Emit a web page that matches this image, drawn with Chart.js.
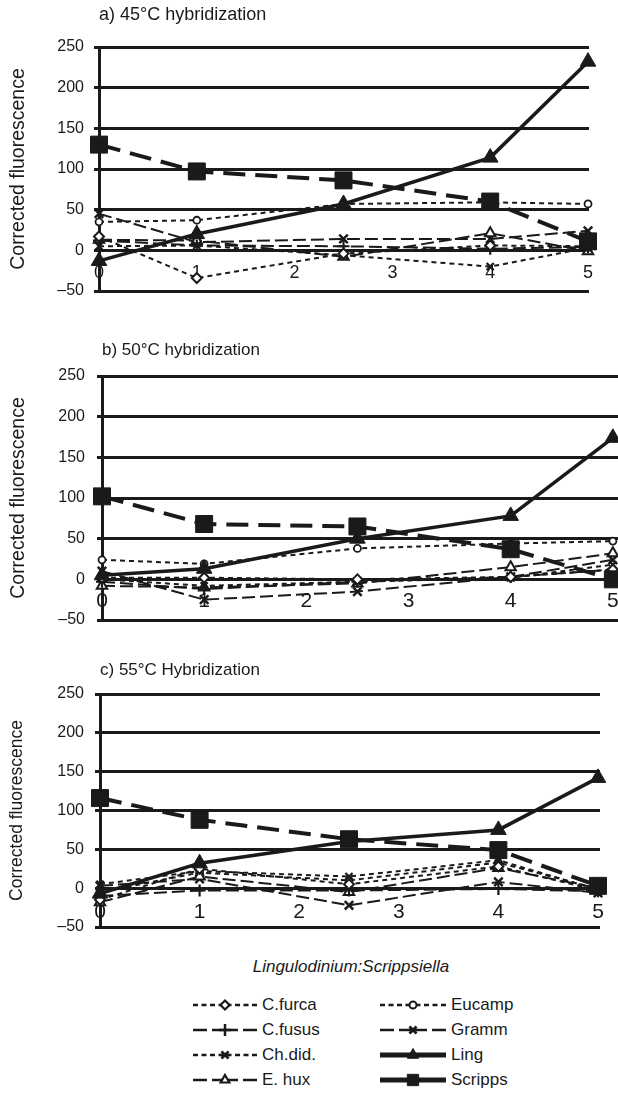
<!DOCTYPE html>
<html><head><meta charset="utf-8">
<script src="https://cdn.jsdelivr.net/npm/chart.js@4.4.1/dist/chart.umd.min.js"></script>
<style>
html,body{margin:0;padding:0;background:#fff;}
body{width:618px;height:1098px;overflow:hidden;position:relative;font-family:'Liberation Sans',Arial,Helvetica,sans-serif;color:#1a1a1a;}
canvas.panel{position:absolute;left:0;display:block;}
#xtitle{position:absolute;left:0;width:702px;top:956px;height:22px;line-height:22px;text-align:center;font-style:italic;font-size:17px;}
.lg{position:absolute;height:20px;}
.lg canvas{position:absolute;top:0;}
.lg span{position:absolute;top:0;line-height:20px;font-size:17px;white-space:nowrap;}
</style></head><body>
<canvas id="pa" class="panel"></canvas>
<canvas id="pb" class="panel"></canvas>
<canvas id="pc" class="panel"></canvas>
<div id="xtitle"></div>
<div id="legend"></div>
<script>
// ---------- data ----------
const xPositions = [0, 1, 2.5, 4, 5];
const xTickValues = [0, 1, 2, 3, 4, 5];
const yTickValues = [-50, 0, 50, 100, 150, 200, 250];
const seriesNames = ['C.furca', 'C.fusus', 'Ch.did.', 'E. hux', 'Eucamp', 'Gramm', 'Ling', 'Scripps'];
const panelTitles = ['a) 45°C hybridization', 'b) 50°C hybridization', 'c) 55°C Hybridization'];
const yAxisTitle = 'Corrected fluorescence';
const xAxisTitle = 'Lingulodinium:Scrippsiella';

// a) 45°C
const cFurcaA  = [17, -34, -4, 6, 5];
const cFususA  = [12, 6, 5, 2, 4];
const chDidA   = [5, 6, -6, -20, 3];
const eHuxA    = [13, 12, -8, 21, -1];
const eucampA  = [35, 37, 57, 59, 57];
const grammA   = [45, 10, 14, 14, 24];
const lingA    = [-13, 20, 57, 114, 232];
const scrippsA = [130, 97, 86, 60, 11];

// b) 50°C
const cFurcaB  = [2, 2, 0, 3, 12];
const cFususB  = [-3, -12, -3, 3, 12];
const chDidB   = [0, -8, -3, 2, 18];
const eHuxB    = [-8, -10, -5, 15, 32];
const eucampB  = [24, 19, 38, 44, 47];
const grammB   = [10, -25, -15, 3, 24];
const lingB    = [5, 13, 50, 78, 174];
const scrippsB = [102, 68, 65, 37, 0];

// c) 55°C
const cFurcaC  = [-15, 25, 5, 28, -3];
const cFususC  = [-10, -3, -3, -1, -4];
const chDidC   = [5, 22, 15, 36, -2];
const eHuxC    = [-18, 15, -5, 26, 0];
const eucampC  = [-5, 20, 10, 33, -1];
const grammC   = [3, 12, -22, 8, -6];
const lingC    = [-7, 32, 60, 75, 142];
const scrippsC = [116, 88, 63, 49, 3];

const panelSeries = [
  [cFurcaA, cFususA, chDidA, eHuxA, eucampA, grammA, lingA, scrippsA],
  [cFurcaB, cFususB, chDidB, eHuxB, eucampB, grammB, lingB, scrippsB],
  [cFurcaC, cFususC, chDidC, eHuxC, eucampC, grammC, lingC, scrippsC]
];

// ---------- styles ----------
const INK = '#1a1a1a';
const seriesStyles = [
  {dash:[5,4],  width:2,   point:'rectRot',  r:5,   fill:'#fff', bw:2,   order:1, lDash:[5,3.5], lWidth:2.5, lR:4.5, lBw:2.2},
  {dash:[13,5], width:2,   point:'cross',    r:6,   fill:INK,   bw:2.2, order:1, lDash:[14,5],  lWidth:2.5, lR:6,   lBw:2.5},
  {dash:[5,4],  width:2,   point:'crossRot', r:5,   fill:INK,   bw:2.2, order:1, lDash:[5,3.5], lWidth:2.5, lR:5,   lBw:2.8},
  {dash:[13,5], width:2,   point:'triangle', r:6,   fill:'#fff', bw:2,   order:1, lDash:[14,5],  lWidth:2.5, lR:5,   lBw:2.2},
  {dash:[5,4],  width:2,   point:'circle',   r:3.5, fill:'#fff', bw:1.8, order:1, lDash:[5,3.5], lWidth:2.5, lR:3.5, lBw:2},
  {dash:[13,5], width:2,   point:'crossRot', r:6,   fill:INK,   bw:2.5, order:1, lDash:[14,5],  lWidth:2.5, lR:5,   lBw:2.8},
  {dash:[],     width:3.5, point:'triangle', r:9,   fill:INK,   bw:1,   order:0, lDash:[],      lWidth:5,   lR:6.5, lBw:1},
  {dash:[22,10],width:4,   point:'rect',     r:12,  fill:INK,   bw:1,   order:0, lDash:[],      lWidth:5,   lR:8,   lBw:1}
];

// ---------- panel geometry ----------
const panelGeom = [
  {id:'pa', top:0,   w:618, h:310, left:99,  right:589, plotTop:47, plotBottom:291, xMax:5.01,
   titleY:15, titleSize:18, yTitleSize:19.5, yTitlePad:7, yTickSize:16, yTickPad:10, xTickSize:18, xTickPad:12},
  {id:'pb', top:330, w:650, h:310, left:102, right:620, plotTop:46, plotBottom:290, xMax:5.07,
   titleY:20.7, titleSize:17, yTitleSize:19.5, yTitlePad:7, yTickSize:16, yTickPad:12, xTickSize:21, xTickPad:9},
  {id:'pc', top:650, w:618, h:300, left:100, right:600, plotTop:44, plotBottom:277, xMax:5.02,
   titleY:20, titleSize:17, yTitleSize:17.5, yTitlePad:7, yTickSize:16, yTickPad:11, xTickSize:21, xTickPad:11}
];

Chart.defaults.font.family = "'Liberation Sans', Arial, Helvetica, sans-serif";
Chart.defaults.color = INK;

function buildPanel(pi) {
  const g = panelGeom[pi];
  const cv = document.getElementById(g.id);
  cv.width = g.w; cv.height = g.h;
  cv.style.top = g.top + 'px';
  cv.style.width = g.w + 'px'; cv.style.height = g.h + 'px';
  const lh = g.titleSize * 1.2;
  const tPadTop = g.titleY - lh / 2;
  const tPadBottom = g.plotTop - tPadTop - lh;
  const datasets = seriesNames.map((name, si) => {
    const st = seriesStyles[si];
    const vals = panelSeries[pi][si];
    return {
      label: name,
      data: xPositions.map((x, i) => ({x: x, y: vals[i]})),
      borderColor: INK,
      borderWidth: st.width,
      borderDash: st.dash,
      pointStyle: st.point,
      pointRadius: st.r,
      pointBackgroundColor: st.fill,
      pointBorderColor: INK,
      pointBorderWidth: st.bw,
      tension: 0,
      fill: false,
      clip: false,
      order: st.order
    };
  });
  const chart = new Chart(cv, {
    type: 'line',
    data: {datasets},
    options: {
      responsive: false,
      animation: false,
      events: [],
      layout: {padding: {left: 0, top: 0, right: g.w - g.right, bottom: g.h - g.plotBottom}},
      plugins: {
        legend: {display: false},
        tooltip: {enabled: false},
        title: {
          display: true, text: panelTitles[pi], align: 'start', fullSize: false,
          color: INK, font: {size: g.titleSize, weight: 'normal'},
          padding: {top: tPadTop, bottom: tPadBottom}
        }
      },
      scales: {
        x: {
          type: 'linear', min: 0, max: g.xMax,
          position: {y: 0},
          afterBuildTicks: s => { s.ticks = xTickValues.map(v => ({value: v})); },
          afterFit: s => { s.height = 0; s.paddingLeft = 0; s.paddingRight = 0; },
          grid: {display: false, drawTicks: false},
          border: {display: false},
          ticks: {color: INK, font: {size: g.xTickSize}, padding: g.xTickPad, maxRotation: 0, autoSkip: false}
        },
        y: {
          type: 'linear', min: yTickValues[0], max: yTickValues[yTickValues.length - 1],
          afterBuildTicks: s => { s.ticks = yTickValues.map(v => ({value: v})); },
          afterFit: s => { s.width = g.left; s.paddingTop = 0; s.paddingBottom = 0; },
          grid: {color: INK, lineWidth: 3, drawTicks: true, tickLength: 5},
          border: {display: true, color: INK, width: 3},
          ticks: {color: INK, font: {size: g.yTickSize}, padding: g.yTickPad,
                  callback: v => (v < 0 ? '\u2013' + Math.abs(v) : String(v))},
          title: {display: true, text: yAxisTitle, color: INK, font: {size: g.yTitleSize},
                  padding: {top: g.yTitlePad, bottom: 0}}
        }
      }
    }
  });
  for (let k = 0; k < 3; k++) {
    const ca = chart.chartArea;
    const dB = ca.bottom - g.plotBottom;
    const dT = ca.top - g.plotTop;
    const dR = ca.right - g.right;
    if (Math.abs(dB) < 0.5 && Math.abs(dT) < 0.5 && Math.abs(dR) < 0.5) break;
    const lp = chart.options.layout.padding;
    chart.options.layout.padding = {left: 0, top: 0, right: lp.right + dR, bottom: lp.bottom + dB};
    const tp = chart.options.plugins.title.padding;
    chart.options.plugins.title.padding = {top: tp.top, bottom: tp.bottom - dT};
    chart.update();
  }
  return chart;
}
panelGeom.forEach((g, i) => buildPanel(i));

document.getElementById('xtitle').textContent = xAxisTitle;

// ---------- legend ----------
const legendCols = [{sample: 193, sw: 64, text: 262}, {sample: 380, sw: 66, text: 451}];
const legendRows = [1005, 1030, 1055, 1080];
const legendOrder = [[0, 4], [1, 5], [2, 6], [3, 7]];
const legendEl = document.getElementById('legend');
legendOrder.forEach((pair, ri) => {
  pair.forEach((si, ci) => {
    const col = legendCols[ci];
    const st = seriesStyles[si];
    const item = document.createElement('div');
    item.className = 'lg';
    item.style.left = '0px';
    item.style.top = (legendRows[ri] - 10) + 'px';
    const c = document.createElement('canvas');
    c.width = col.sw; c.height = 20;
    c.style.left = col.sample + 'px';
    item.appendChild(c);
    const sp = document.createElement('span');
    sp.style.left = col.text + 'px';
    sp.textContent = seriesNames[si];
    item.appendChild(sp);
    legendEl.appendChild(item);
    const ctx = c.getContext('2d');
    const cy = 10;
    ctx.strokeStyle = INK; ctx.lineWidth = st.lWidth;
    ctx.setLineDash(st.lDash);
    ctx.beginPath(); ctx.moveTo(0, cy); ctx.lineTo(col.sw / 2, cy); ctx.stroke();
    ctx.beginPath(); ctx.moveTo(col.sw, cy); ctx.lineTo(col.sw / 2, cy); ctx.stroke();
    ctx.setLineDash([]);
    ctx.fillStyle = st.fill; ctx.strokeStyle = INK; ctx.lineWidth = st.lBw;
    Chart.helpers.drawPoint(ctx, {pointStyle: st.point, radius: st.lR, rotation: 0, borderWidth: st.lBw}, col.sw / 2, cy);
  });
});
</script>
</body></html>
